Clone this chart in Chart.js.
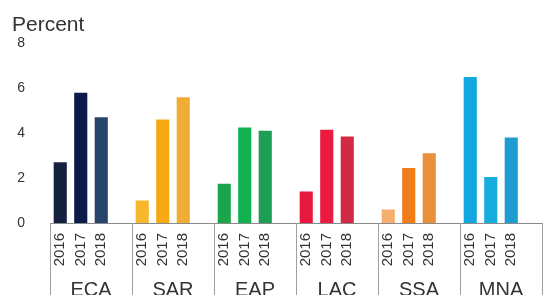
<!DOCTYPE html>
<html>
<head>
<meta charset="utf-8">
<script src="https://cdn.jsdelivr.net/npm/chart.js@4.4.1/dist/chart.umd.min.js"></script>
<style>
  html, body { margin: 0; padding: 0; background: #fff; }
  #wrap { width: 546px; height: 295px; }
</style>
</head>
<body>
<div id="wrap"><canvas id="canvas"></canvas></div>
<script>
// regions and years on the axis
var regions = ['ECA', 'SAR', 'EAP', 'LAC', 'SSA', 'MNA'];
var years = ['2016', '2017', '2018'];

// growth values (percent) per region, 2016 / 2017 / 2018
var eca = [2.7, 5.8, 4.7];
var sar = [1.0, 4.6, 5.6];
var eap = [1.75, 4.25, 4.1];
var lac = [1.4, 4.15, 3.85];
var ssa = [0.6, 2.45, 3.1];
var mna = [6.5, 2.05, 3.8];

var yTicks = [0, 2, 4, 6, 8];

// one shade per bar
var ecaColors = ['#15223f', '#0b1a48', '#27446a'];
var sarColors = ['#f6b62e', '#f5aa14', '#f1ad33'];
var eapColors = ['#19a64b', '#10b24f', '#1e9e55'];
var lacColors = ['#e8183c', '#ec1a3e', '#d22a44'];
var ssaColors = ['#f5ae6c', '#f07c1a', '#e8913a'];
var mnaColors = ['#13a7df', '#14addd', '#1f9dd3'];

var seriesList = [eca, sar, eap, lac, ssa, mna];
var colorList = [ecaColors, sarColors, eapColors, lacColors, ssaColors, mnaColors];

// each region takes 4 slots: 3 bars + an empty spacer
var labels = [];
var values = [];
var colors = [];
for (var g = 0; g < regions.length; g++) {
    for (var k = 0; k < years.length; k++) {
        labels.push(years[k]);
        values.push(seriesList[g][k]);
        colors.push(colorList[g][k]);
    }
    labels.push('');
    values.push(null);
    colors.push('rgba(0,0,0,0)');
}

// vertical separators between region groups, from the axis line down
var groupLines = {
    id: 'groupLines',
    afterDraw: function (chart) {
        var x = chart.scales.x;
        var ctx = chart.ctx;
        var slot = x.width / labels.length;
        ctx.save();
        ctx.strokeStyle = '#a0a0a0';
        ctx.lineWidth = 1;
        for (var g = 0; g <= regions.length; g++) {
            var px = Math.round(x.getPixelForValue(g * 4) - slot / 2) + 0.5;
            ctx.beginPath();
            ctx.moveTo(px, x.top);
            ctx.lineTo(px, chart.height);
            ctx.stroke();
        }
        ctx.restore();
    }
};

chart = new Chart(document.getElementById('canvas').getContext('2d'), {
    type: 'bar',
    data: {
        labels: labels,
        datasets: [{
            data: values,
            backgroundColor: colors,
            barPercentage: 0.64,
            categoryPercentage: 1.0
        }]
    },
    options: {
        responsive: true,
        maintainAspectRatio: false,
        animation: false,
        layout: { padding: { left: 12, right: 4, top: 0, bottom: 0 } },
        plugins: {
            legend: { display: false },
            tooltip: { enabled: false },
            title: {
                display: true,
                text: 'Percent',
                align: 'start',
                color: '#333',
                font: { family: 'Liberation Sans', size: 21, weight: 'normal' },
                padding: { top: 13, bottom: 5 }
            }
        },
        scales: {
            x: {
                afterFit: function (scale) {
                    scale.height = 45;
                    scale.paddingLeft = 0;
                    scale.paddingRight = 0;
                },
                grid: { display: false, drawTicks: false },
                border: { display: true, color: '#8a8a8a' },
                ticks: {
                    autoSkip: false,
                    minRotation: 90,
                    maxRotation: 90,
                    padding: 10,
                    color: '#333',
                    font: { family: 'Liberation Sans', size: 15 }
                }
            },
            x2: {
                type: 'category',
                labels: regions,
                position: 'bottom',
                offset: true,
                afterFit: function (scale) {
                    scale.height = 27;
                    scale.paddingLeft = 0;
                    scale.paddingRight = 0;
                },
                grid: { display: false, drawTicks: false },
                border: { display: false },
                ticks: {
                    padding: 10,
                    color: '#333',
                    font: { family: 'Liberation Sans', size: 20 }
                }
            },
            y: {
                min: 0,
                max: 8,
                afterFit: function (scale) { scale.width = 38; },
                afterBuildTicks: function (scale) {
                    scale.ticks = yTicks.map(function (v) { return { value: v }; });
                },
                grid: { display: false, drawTicks: false },
                border: { display: false },
                ticks: {
                    padding: 25,
                    color: '#333',
                    font: { family: 'Liberation Sans', size: 14 }
                }
            }
        }
    },
    plugins: [groupLines]
});
</script>
</body>
</html>
